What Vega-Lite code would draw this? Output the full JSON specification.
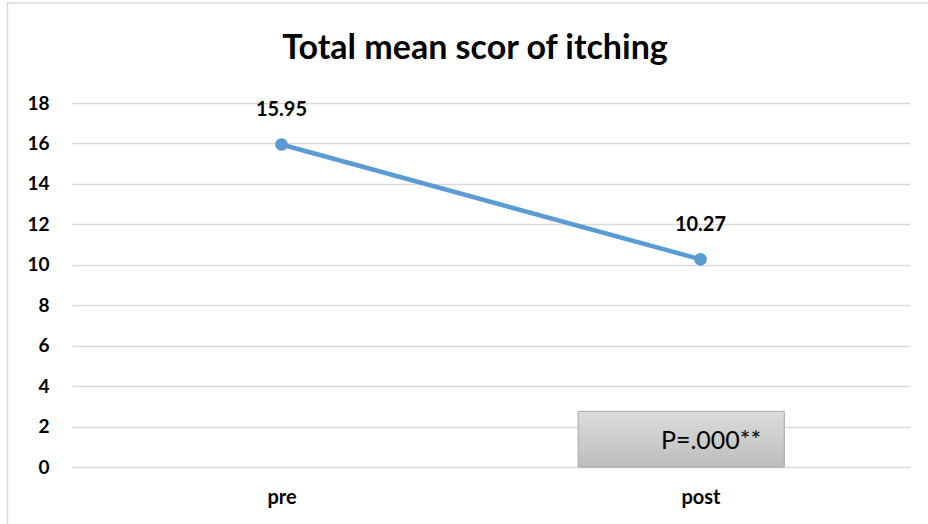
{
  "$schema": "https://vega.github.io/schema/vega-lite/v6.json",
  "autosize": "none",
  "width": 838,
  "height": 364,
  "padding": {"left": 72, "top": 103, "right": 18, "bottom": 57},
  "background": "white",
  "config": {
    "font": "Lato",
    "view": {"stroke": null}
  },
  "title": {
    "text": "Total mean scor of itching",
    "font": "Lato",
    "fontSize": 34,
    "fontWeight": "bold",
    "color": "#000000",
    "anchor": "middle",
    "baseline": "alphabetic",
    "dx": -16,
    "offset": -91
  },
  "datasets": {
    "main": [
      {"phase": "pre", "score": 15.95},
      {"phase": "post", "score": 10.27}
    ],
    "note": [
      {"x1": 0.604, "x2": 0.85, "y1": 0, "y2": 2.75, "tx": 0.7625, "ty": 1.3, "label": "P=.000**"}
    ],
    "frame": [
      {"x1": -0.077, "x2": 1.2, "y1": -5, "y2": 22.95}
    ]
  },
  "layer": [
    {
      "data": {"name": "main"},
      "layer": [
        {
          "mark": {"type": "line", "color": "#5B9BD5", "strokeWidth": 4.5},
          "encoding": {
            "x": {
              "field": "phase", "type": "nominal", "sort": ["pre", "post"],
              "scale": {"type": "point", "padding": 0.5},
              "axis": {"title": null, "domain": false, "ticks": false, "labelAngle": 0, "labelFont": "Lato", "labelFontSize": 20, "labelFontWeight": "bold", "labelColor": "#000000", "labelPadding": 20}
            },
            "y": {
              "field": "score", "type": "quantitative",
              "scale": {"domain": [0, 18]},
              "axis": {"title": null, "values": [0, 2, 4, 6, 8, 10, 12, 14, 16, 18], "domain": false, "ticks": false, "labelFont": "Lato", "labelFontSize": 19, "labelFontWeight": "bold", "labelColor": "#000000", "labelPadding": 23, "gridColor": "#d9d9d9", "gridWidth": 1.3}
            }
          }
        },
        {
          "mark": {"type": "point", "filled": true, "opacity": 1, "color": "#5B9BD5", "size": 160},
          "encoding": {
            "x": {"field": "phase", "type": "nominal", "sort": ["pre", "post"]},
            "y": {"field": "score", "type": "quantitative"}
          }
        },
        {
          "mark": {"type": "text", "font": "Lato", "fontSize": 20, "fontWeight": "bold", "color": "#000000", "dy": -34, "baseline": "middle"},
          "encoding": {
            "x": {"field": "phase", "type": "nominal", "sort": ["pre", "post"]},
            "y": {"field": "score", "type": "quantitative"},
            "text": {"field": "score", "type": "quantitative", "format": ".2f"}
          }
        }
      ]
    },
    {
      "data": {"name": "note"},
      "layer": [
        {
          "mark": {
            "type": "rect",
            "stroke": "#a6a6a6",
            "strokeWidth": 1,
            "color": {"gradient": "linear", "x1": 0, "y1": 0, "x2": 0, "y2": 1, "stops": [{"offset": 0, "color": "#dcdcdc"}, {"offset": 1, "color": "#bdbdbd"}]}
          },
          "encoding": {
            "x": {"field": "x1", "type": "quantitative", "scale": {"domain": [0, 1]}, "axis": null},
            "x2": {"field": "x2"},
            "y": {"field": "y1", "type": "quantitative"},
            "y2": {"field": "y2"}
          }
        },
        {
          "mark": {"type": "text", "font": "Lato", "fontSize": 25, "color": "#000000", "baseline": "middle"},
          "encoding": {
            "x": {"field": "tx", "type": "quantitative", "scale": {"domain": [0, 1]}, "axis": null},
            "y": {"field": "ty", "type": "quantitative"},
            "text": {"field": "label"}
          }
        },
        {
          "data": {"name": "frame"},
          "mark": {"type": "rect", "fill": null, "stroke": "#d9d9d9", "strokeWidth": 1.5, "clip": false},
          "encoding": {
            "x": {"field": "x1", "type": "quantitative", "scale": {"domain": [0, 1]}, "axis": null},
            "x2": {"field": "x2"},
            "y": {"field": "y1", "type": "quantitative"},
            "y2": {"field": "y2"}
          }
        }
      ]
    }
  ],
  "resolve": {"scale": {"x": "independent"}}
}
